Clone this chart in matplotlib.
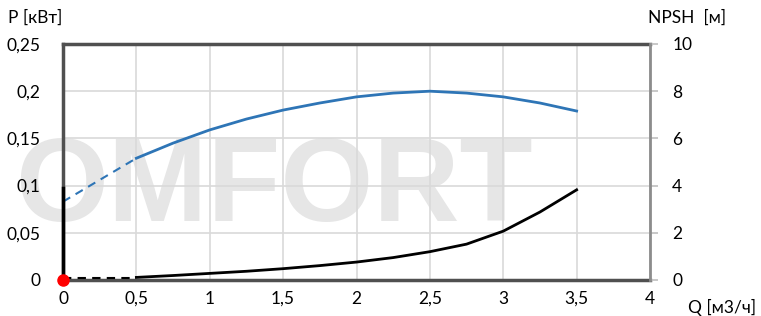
import matplotlib.pyplot as plt
import numpy as np

# flow, m3/h
q_dash = [0, 0.25, 0.5]
q = [0.5, 0.75, 1.0, 1.25, 1.5, 1.75, 2.0, 2.25, 2.5, 2.75, 3.0, 3.25, 3.5]

# power P, kW (left axis)
p_dash = [0.083, 0.106, 0.129]
p = [0.129, 0.145, 0.159, 0.1705, 0.180, 0.1875, 0.194, 0.198, 0.200, 0.198, 0.194, 0.1875, 0.179]

# NPSH, m (right axis)
npsh_dash = [0.1, 0.1, 0.1]
npsh = [0.11, 0.19, 0.28, 0.37, 0.48, 0.61, 0.76, 0.95, 1.2, 1.52, 2.07, 2.88, 3.82]
npsh_q0 = [0, 3.9]

xticks = [0, 0.5, 1, 1.5, 2, 2.5, 3, 3.5, 4]
pticks = [0, 0.05, 0.1, 0.15, 0.2, 0.25]
nticks = [0, 2, 4, 6, 8, 10]

def comma(v):
    s = ('%g' % v).replace('.', ',')
    return s

plt.rcParams['font.family'] = ['Lato', 'DejaVu Sans']
fig = plt.figure(figsize=(7.61, 3.16), dpi=100)
ax = fig.add_axes([63/761, 36/316, 587/761, 236/316])
ax.set_facecolor('none')
ax2 = ax.twinx()

# watermark
fig.text(0.02, 1 - 190/316, 'OMFORT', fontsize=86, fontweight='bold', color='#e6e6e6',
         family=['Liberation Sans Narrow', 'Liberation Sans'], va='center', ha='left', zorder=-5)

ax.set_xlim(0, 4)
ax.set_ylim(0, 0.25)
ax2.set_ylim(0, 10)
ax.set_xticks(xticks)
ax.set_xticklabels([comma(v) for v in xticks])
ax.set_yticks(pticks)
ax.set_yticklabels([comma(v) for v in pticks])
ax2.set_yticks(nticks)
ax2.set_yticklabels([comma(v) for v in nticks])
ax.grid(True, color='#d9d9d9', lw=1.2)
ax.set_axisbelow(True)

ax.tick_params(axis='both', length=0, labelsize=12.5, pad=8)
ax.tick_params(axis='y', pad=16)
ax2.tick_params(axis='y', length=6, width=1.2, color='#bfbfbf', labelsize=12.5, pad=10, direction='out')

for s in ['top', 'left', 'bottom']:
    ax.spines[s].set_color('#505050')
    ax.spines[s].set_linewidth(2.5)
ax.spines['right'].set_visible(False)
for s in ['top', 'left', 'bottom']:
    ax2.spines[s].set_visible(False)
ax2.spines['right'].set_color('#8c8c8c')
ax2.spines['right'].set_linewidth(2)

ax.plot(q_dash, p_dash, color='#2e75b6', lw=1.5, ls=(0, (4, 3)))
ax.plot(q, p, color='#2e75b6', lw=2)
ax2.plot(q_dash, npsh_dash, color='black', lw=1.5, ls=(0, (4, 3)))
ax2.plot(q, npsh, color='black', lw=2)
ax2.plot([0, 0], npsh_q0, color='black', lw=2.5, clip_on=False)
ax2.plot([0], [0], 'o', color='red', ms=8, clip_on=False, zorder=10)

fig.text(8/761, 1 - 18/316, 'P [кВт]', fontsize=12.5, va='center', ha='left')
fig.text(648/761, 1 - 18/316, 'NPSH  [м]', fontsize=12.5, va='center', ha='left')
fig.text(688/761, 1 - 307/316, 'Q [м3/ч]', fontsize=12.5, va='center', ha='left')

fig.savefig('out.png', dpi=100)
